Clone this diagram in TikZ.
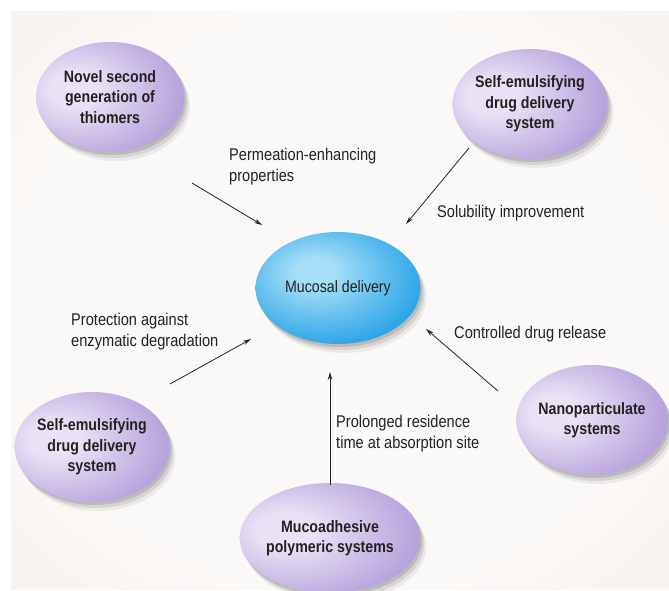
\documentclass[tikz,border=0pt]{standalone}
\usepackage{fontspec}
\setmainfont{Liberation Sans}[FakeStretch=0.86]
\usetikzlibrary{arrows.meta,shapes.geometric,shadows}
\definecolor{pHi}{HTML}{E9E2F5}
\definecolor{pMid}{HTML}{BBA7DE}
\definecolor{pEdge}{HTML}{9178C3}
\definecolor{bHi}{HTML}{A6DEF8}
\definecolor{bMid}{HTML}{2FA6E8}
\definecolor{bEdge}{HTML}{1480CD}
\definecolor{bgIn}{HTML}{FBF9F7}
\definecolor{bgOut}{HTML}{F0E0E0}
\definecolor{txt}{HTML}{222222}
\pgfdeclareradialshading{purpleball}{\pgfpoint{-14bp}{4bp}}{color(0bp)=(pHi); color(8bp)=(pHi); color(30bp)=(pMid); color(52bp)=(pEdge); color(70bp)=(pEdge)}
\pgfdeclareradialshading{blueball}{\pgfpoint{-8bp}{8bp}}{color(0bp)=(bHi); color(6bp)=(bHi); color(30bp)=(bMid); color(52bp)=(bEdge); color(70bp)=(bEdge)}
\pgfdeclareradialshading{bgshade}{\pgfpoint{0bp}{0bp}}{color(0bp)=(bgIn); color(25bp)=(bgIn); color(60bp)=(bgOut); color(80bp)=(bgOut)}
\tikzset{
  softshadow/.style={
    drop shadow={shadow xshift=2pt,shadow yshift=-3pt,opacity=0.12,fill=black},
    drop shadow={shadow xshift=4pt,shadow yshift=-6pt,opacity=0.09,fill=black},
    drop shadow={shadow xshift=6pt,shadow yshift=-9pt,opacity=0.06,fill=black}},
  ball/.style={ellipse, softshadow, shading=purpleball, minimum width=148pt, minimum height=110pt,
    inner sep=0pt, align=center, text=txt, font=\fontsize{16.5}{20.5}\selectfont\bfseries},
  core/.style={ellipse, softshadow, shading=blueball, minimum width=165pt, minimum height=112pt,
    inner sep=0pt, align=center, text=txt, font=\fontsize{16.5}{20.5}\selectfont},
  lab/.style={anchor=west, inner sep=0pt, align=left, text=txt, font=\fontsize{17}{21}\selectfont},
  conn/.style={line width=0.8pt, black!85, -{Stealth[length=8pt,width=4.5pt]}}
}
\begin{document}
\begin{tikzpicture}[x=1pt,y=-1pt]
\useasboundingbox (0,0) rectangle (669,591);
\fill[white] (0,0) rectangle (669,591);
\shade[shading=bgshade] (11,12) rectangle (669,589);
% nodes
\node[ball] (tl) at (110,97) {Novel second\\generation of\\thiomers};
\node[ball] (tr) at (530,104) {Self-emulsifying\\drug delivery\\system};
\node[core] (mc) at (338,288) {Mucosal delivery};
\node[ball] (bl) at (92,447) {Self-emulsifying\\drug delivery\\system};
\node[ball] (nr) at (592,420) {Nanoparticulate\\systems};
\node[ball] (bm) at (330,538) {Mucoadhesive\\polymeric systems};
% connector ends
\coordinate (s1) at (192,183); \coordinate (e1) at (262,225);
\coordinate (s2) at (469,148); \coordinate (e2) at (406,224);
\coordinate (s3) at (170,384); \coordinate (e3) at (251,339);
\coordinate (s4) at (498,391); \coordinate (e4) at (426,329);
\coordinate (s5) at (330,485); \coordinate (e5) at (330,372);
\draw[conn] (s1) -- (e1);
\draw[conn] (s2) -- (e2);
\draw[conn] (s3) -- (e3);
\draw[conn] (s4) -- (e4);
\draw[conn] (s5) -- (e5);
% labels
\node[lab] (l1) at (229,167) {Permeation-enhancing\\properties};
\node[lab] (l2) at (437,213) {Solubility improvement};
\node[lab] (l3) at (71,332) {Protection against\\enzymatic degradation};
\node[lab] (l4) at (454,334) {Controlled drug release};
\node[lab] (l5) at (336,434) {Prolonged residence\\time at absorption site};
\end{tikzpicture}
\end{document}
